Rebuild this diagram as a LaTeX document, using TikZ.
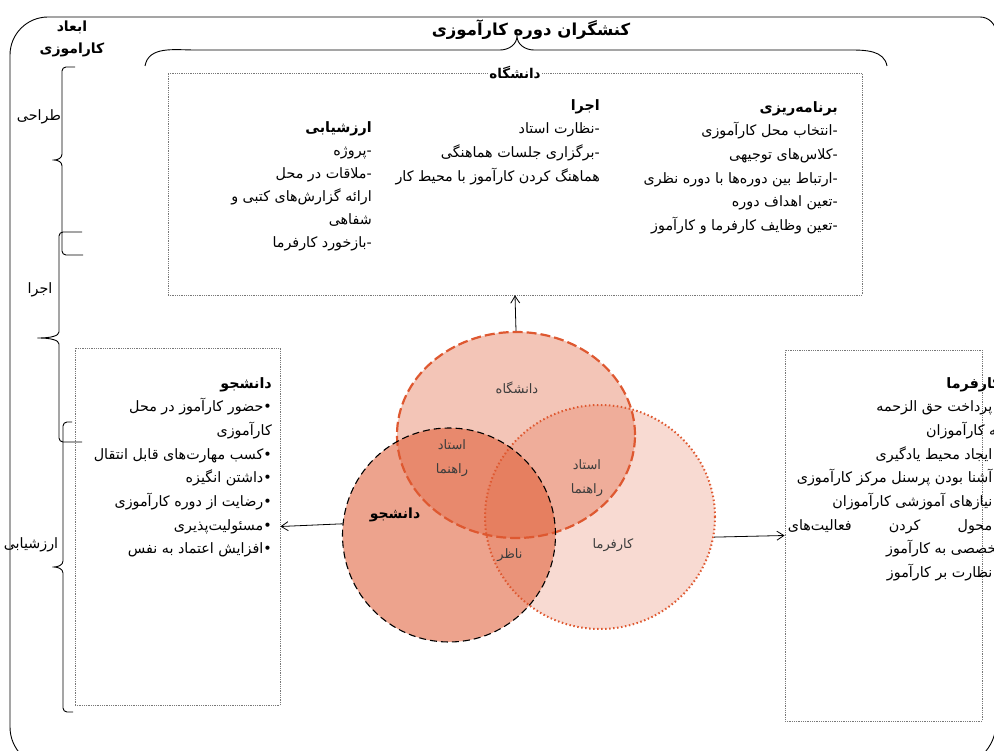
\documentclass[tikz,border=0pt]{standalone}
\usepackage{fontspec}
\usetikzlibrary{arrows.meta, positioning, shapes.geometric}
\TeXXeTstate=1
\newfontfamily\arabicfont[Script=Arabic]{DejaVu Sans}
\definecolor{vennred}{RGB}{222,88,48}
\definecolor{boxgray}{RGB}{120,120,120}
\definecolor{labelgray}{RGB}{60,60,60}
\newcommand{\rl}[1]{\beginR#1\endR}
\tikzset{
  txt/.style={font=\arabicfont\fontsize{14.3}{23.7}\selectfont, inner sep=0pt},
  col/.style={txt, align=right, anchor=north east},
  head/.style={font=\arabicfont\bfseries\fontsize{13.5}{22}\selectfont, inner sep=1pt, align=center},
  panel/.style={draw=boxgray, densely dotted, line width=0.8pt},
  frame/.style={line width=0.9pt},
  bracket/.style={line width=0.9pt, rounded corners=4pt},
  arrow/.style={-{Straight Barb[length=7pt,width=9pt]}, line width=0.8pt},
  venn/.style={ellipse, inner sep=0pt},
  vlabel/.style={font=\arabicfont\fontsize{13}{24}\selectfont, text=labelgray, align=center}
}

\begin{document}
\begin{tikzpicture}[x=1pt, y=-1pt]
  \useasboundingbox (0,0) rectangle (994,751);
  \clip (0,0) rectangle (994,751);

  % outer frame and the top brace
  \draw[frame] (10,400) [rounded corners=38pt] -- (10,17) [rounded corners=16pt] -- (996,17)
    [rounded corners=44pt] -- (996,767) [rounded corners=40pt] -- (10,767) -- cycle;
  \draw[frame] (145,66) to[out=80,in=180] (195,50) -- (500,50) to[out=0,in=-90] (517,36)
    to[out=-90,in=180] (534,50) -- (850,50) to[out=0,in=100] (887,66);
  \node[head, font=\arabicfont\bfseries\fontsize{16.5}{22}\selectfont] (title) at (531,30) {\rl{کنشگران دوره کارآموزی}};

  % dimensions on the left
  \node[head, font=\arabicfont\bfseries\fontsize{14}{22}\selectfont] (dims) at (72,39) {\rl{ابعاد}\\\rl{کاراموزی}};
  \draw[bracket] (75,67) -- (62,67) -- (62,150) .. controls (62,158) and (58,160) .. (50,160)
    .. controls (58,160) and (62,162) .. (62,170) -- (62,255) -- (83,255);
  \draw[bracket] (82,232) -- (59,232) -- (59,328) .. controls (59,336) and (50,338) .. (35,338)
    .. controls (50,338) and (59,340) .. (59,348) -- (59,442) -- (82,442);
  \draw[bracket] (72,422) -- (63,422) -- (63,557) .. controls (63,565) and (58,567) .. (50,567)
    .. controls (58,567) and (63,569) .. (63,577) -- (63,712) -- (73,712);
  \node[txt] (design) at (39,117) {\rl{طراحی}};
  \node[txt] (impl) at (40,290) {\rl{اجرا}};
  \node[txt] (assess) at (31,545) {\rl{ارزشیابی}};

  % university box
  \node[panel, minimum width=694pt, minimum height=222pt] (unibox) at (515,184) {};
  \node[head, fill=white] (unititle) at (unibox.north) {\rl{دانشگاه}};
  \node[col] (plan) at (838,101) {{\bfseries\rl{برنامه‌ریزی}}\\
    \rl{-انتخاب محل کارآموزی}\\
    \rl{-کلاس‌های توجیهی}\\
    \rl{-ارتباط بین دوره‌ها با دوره نظری}\\
    \rl{-تعین اهداف دوره}\\
    \rl{-تعین وظایف کارفرما و کارآموز}};
  \node[col] (exec) at (600,99) {{\bfseries\rl{اجرا}}\\
    \rl{-نظارت استاد}\\
    \rl{-برگزاری جلسات هماهنگی}\\
    \rl{هماهنگ کردن کارآموز با محیط کار}};
  \node[col, font=\arabicfont\fontsize{14.3}{23}\selectfont] (eval) at (372,121) {{\bfseries\rl{ارزشیابی}}\\
    \rl{-پروژه}\\
    \rl{-ملاقات در محل}\\
    \rl{ارائه گزارش‌های کتبی و}\\
    \rl{شفاهی}\\
    \rl{-بازخورد کارفرما}};

  % student box
  \node[panel, minimum width=205pt, minimum height=357pt] (studbox) at (177.5,526.5) {};
  \node[col] (studtext) at (272,377) {{\bfseries\rl{دانشجو}}\\
    \rl{•حضور کارآموز در محل}\\
    \rl{کارآموزی}\\
    \rl{•کسب مهارت‌های قابل انتقال}\\
    \rl{•داشتن انگیزه}\\
    \rl{•رضایت از دوره کارآموزی}\\
    \rl{•مسئولیت‌پذیری}\\
    \rl{•افزایش اعتماد به نفس}};

  % employer box
  \node[panel, minimum width=197pt, minimum height=371pt] (empbox) at (883.5,535.5) {};
  \node[col] (emptext) at (1001,377) {{\bfseries\rl{کارفرما}}\\
    \rl{•پرداخت حق الزحمه}\\
    \rl{به کارآموزان}\\
    \rl{•ایجاد محیط یادگیری}\\
    \rl{•آشنا بودن پرسنل مرکز کارآموزی}\\
    \rl{•نیازهای آموزشی کارآموزان}\\
    \hbox to 213pt{\rl{•محول\hfill کردن\hfill فعالیت‌های}}\\
    \rl{تخصصی به کارآموز}\\
    \rl{•نظارت بر کارآموز}};

  % venn circles
  \node[venn, minimum width=238pt, minimum height=206pt, fill=vennred, fill opacity=0.35,
    draw=vennred, line width=2.2pt, dash pattern=on 10pt off 4pt] (uni) at (516,435) {};
  \node[venn, minimum width=230pt, minimum height=224pt, fill=vennred, fill opacity=0.22,
    draw=vennred, line width=2pt, dash pattern=on 1.5pt off 2.5pt] (emp) at (600,517) {};
  \node[venn, minimum width=213pt, minimum height=214pt, fill=vennred, fill opacity=0.55,
    draw=black, line width=1.1pt, dash pattern=on 7pt off 4pt] (stud) at (449,535) {};

  \node[vlabel] (uniname) at (517,388) {\rl{دانشگاه}};
  \node[vlabel] (advisorA) at (452,458) {\rl{استاد}\\\rl{راهنما}};
  \node[vlabel] (advisorB) at (587,478) {\rl{استاد}\\\rl{راهنما}};
  \node[vlabel, text=black, font=\arabicfont\bfseries\fontsize{14}{22}\selectfont] (studname) at (395,515) {\rl{دانشجو}};
  \node[vlabel] (observer) at (510,555) {\rl{ناظر}};
  \node[vlabel] (empname) at (613,545) {\rl{کارفرما}};

  \draw[arrow] (uni.north) -- (unibox.south);
  \draw[arrow] (stud.174) -- (studbox.east);
  \draw[arrow] (emp.-10) -- (empbox.west);
\end{tikzpicture}
\end{document}
